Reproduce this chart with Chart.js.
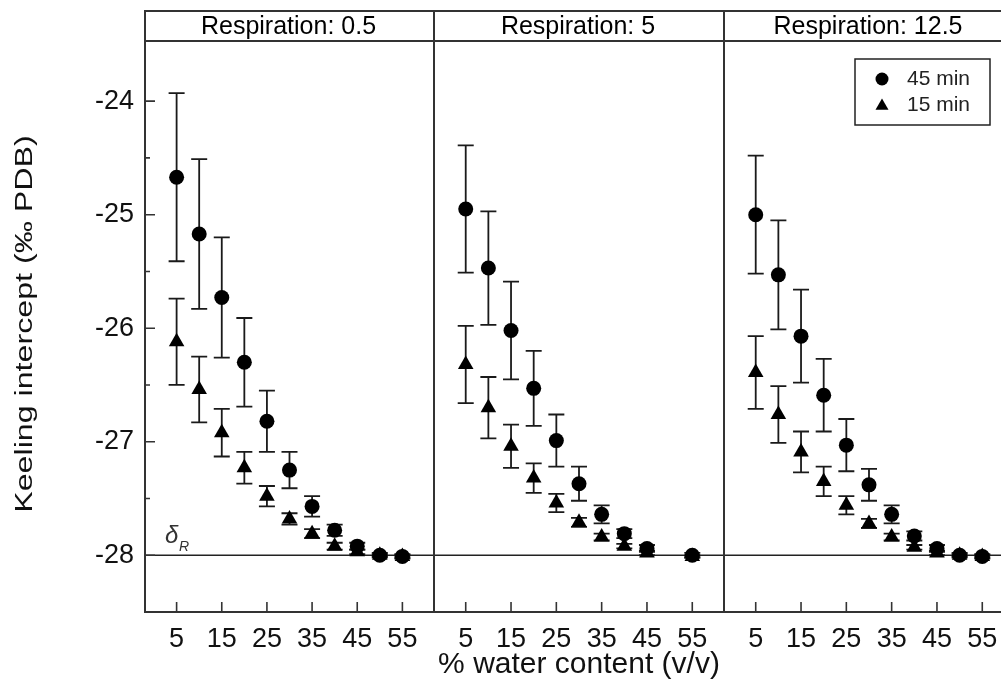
<!DOCTYPE html>
<html>
<head>
<meta charset="utf-8">
<script src="https://cdn.jsdelivr.net/npm/chart.js@4.4.0/dist/chart.umd.min.js"></script>
<style>
  html, body { margin: 0; padding: 0; background: #fff; overflow: hidden; }
  #wrap { position: relative; width: 1001px; height: 694px; overflow: hidden; }
  canvas { position: absolute; top: 0; }
</style>
</head>
<body>
<div id="wrap">
  <canvas id="p1" width="444" height="694" style="left:0px"></canvas>
  <canvas id="p2" width="310" height="694" style="left:424px"></canvas>
  <canvas id="p3" width="310" height="694" style="left:714px"></canvas>
</div>
<script>
// x values (% water content) and tick marks
var waterContent = [5, 10, 15, 20, 25, 30, 35, 40, 45, 50, 55];
var xTickValues = [5, 15, 25, 35, 45, 55];
var yTickValues = [-28, -27, -26, -25, -24];
var yMinorTicks = [-28.5, -27.5, -26.5, -25.5, -24.5];
var panelTitles = ['Respiration: 0.5', 'Respiration: 5', 'Respiration: 12.5'];
var seriesLabels = ['45 min', '15 min'];
var deltaR = -28;

// Respiration 0.5
var resp05min45 = [-24.67, -25.17, -25.73, -26.30, -26.82, -27.25, -27.57, -27.78, -27.92, -28.00, -28.01];
var resp05min45Err = [0.74, 0.66, 0.53, 0.39, 0.27, 0.16, 0.09, 0.05, 0.03, 0.02, 0.02];
var resp05min15 = [-26.12, -26.54, -26.92, -27.23, -27.48, -27.68, -27.81, -27.92, -27.97, -28.00, -28.01];
var resp05min15Err = [0.38, 0.29, 0.21, 0.14, 0.09, 0.05, 0.04, 0.03, 0.02, 0.01, 0.01];

// Respiration 5 (no point at 50 %)
var resp5min45 = [-24.95, -25.47, -26.02, -26.53, -26.99, -27.37, -27.64, -27.81, -27.94, null, -28.00];
var resp5min45Err = [0.56, 0.50, 0.43, 0.33, 0.23, 0.15, 0.08, 0.04, 0.03, null, 0.02];
var resp5min15 = [-26.32, -26.70, -27.04, -27.32, -27.54, -27.71, -27.84, -27.92, -27.98, null, -28.01];
var resp5min15Err = [0.34, 0.27, 0.19, 0.13, 0.08, 0.04, 0.03, 0.02, 0.02, null, 0.01];

// Respiration 12.5
var resp125min45 = [-25.00, -25.53, -26.07, -26.59, -27.03, -27.38, -27.64, -27.83, -27.94, -28.00, -28.01];
var resp125min45Err = [0.52, 0.48, 0.41, 0.32, 0.23, 0.14, 0.08, 0.04, 0.03, 0.02, 0.02];
var resp125min15 = [-26.39, -26.76, -27.09, -27.35, -27.56, -27.72, -27.84, -27.93, -27.98, -28.00, -28.01];
var resp125min15Err = [0.32, 0.25, 0.18, 0.13, 0.08, 0.04, 0.03, 0.02, 0.02, 0.01, 0.01];

var FONT = '"Liberation Sans", Arial, sans-serif';
var INK = '#111';
var LINE = '#333';

function toPoints(values, errs) {
    var pts = [];
    for (var i = 0; i < waterContent.length; i++) {
        if (values[i] === null) continue;
        pts.push({ x: waterContent[i], y: values[i], e: errs[i] });
    }
    return pts;
}

// frame, header strip, inward ticks, error bars, delta line, legend
var panelDecor = {
    id: 'panelDecor',
    beforeDatasetsDraw: function (chart, args, o) {
        var ctx = chart.ctx, a = chart.chartArea;
        var xs = chart.scales.x, ys = chart.scales.y;
        ctx.save();
        var yd = ys.getPixelForValue(deltaR);
        ctx.strokeStyle = '#222';
        ctx.lineWidth = 1.5;
        ctx.beginPath();
        ctx.moveTo(a.left, yd);
        ctx.lineTo(a.right, yd);
        ctx.stroke();

        // error bars
        ctx.strokeStyle = '#1a1a1a';
        ctx.lineWidth = 1.8;
        chart.data.datasets.forEach(function (ds) {
            ds.data.forEach(function (p) {
                if (!p.e) return;
                var px = xs.getPixelForValue(p.x);
                var top = ys.getPixelForValue(p.y + p.e);
                var bot = ys.getPixelForValue(p.y - p.e);
                ctx.beginPath();
                ctx.moveTo(px, top); ctx.lineTo(px, bot);
                ctx.moveTo(px - 8, top); ctx.lineTo(px + 8, top);
                ctx.moveTo(px - 8, bot); ctx.lineTo(px + 8, bot);
                ctx.stroke();
            });
        });

        if (o.delta) {
            ctx.fillStyle = '#333';
            ctx.textAlign = 'left';
            ctx.textBaseline = 'alphabetic';
            ctx.font = 'italic 24px ' + FONT;
            ctx.fillText('δ', a.left + 20, yd - 12);
            ctx.font = 'italic 14px ' + FONT;
            ctx.fillText('R', a.left + 34, yd - 4);
        }
        ctx.restore();
    },
    afterDraw: function (chart, args, o) {
        var ctx = chart.ctx, a = chart.chartArea;
        var xs = chart.scales.x, ys = chart.scales.y;
        ctx.save();
        ctx.strokeStyle = LINE;
        ctx.lineWidth = 2;
        // header strip
        ctx.strokeRect(a.left, 11, a.right - a.left, a.top - 11);
        ctx.fillStyle = '#000';
        ctx.font = '25px ' + FONT;
        ctx.textAlign = 'center';
        ctx.textBaseline = 'middle';
        ctx.fillText(o.title, (a.left + a.right) / 2 - 1, (11 + a.top) / 2 + 1);
        // plot frame
        ctx.strokeRect(a.left, a.top, a.right - a.left, a.bottom - a.top);

        // inward ticks
        ctx.lineWidth = 1.6;
        ctx.beginPath();
        xTickValues.forEach(function (v) {
            var px = xs.getPixelForValue(v);
            ctx.moveTo(px, a.bottom);
            ctx.lineTo(px, a.bottom - 10);
        });
        if (o.yTicks) {
            yTickValues.forEach(function (v) {
                var py = ys.getPixelForValue(v);
                ctx.moveTo(a.left, py);
                ctx.lineTo(a.left + 10, py);
            });
            yMinorTicks.forEach(function (v) {
                var py = ys.getPixelForValue(v);
                ctx.moveTo(a.left, py);
                ctx.lineTo(a.left + 5, py);
            });
        }
        ctx.stroke();

        if (o.yTitle) {
            ctx.save();
            ctx.translate(32, 324);
            ctx.rotate(-Math.PI / 2);
            ctx.scale(1.4, 1);
            ctx.fillStyle = INK;
            ctx.font = '23px ' + FONT;
            ctx.textAlign = 'center';
            ctx.textBaseline = 'alphabetic';
            ctx.fillText(o.yTitle, 0, 0);
            ctx.restore();
        }

        if (o.legend) {
            var lx = a.left + 131, ly = a.top + 18;
            ctx.strokeStyle = '#222';
            ctx.lineWidth = 1.5;
            ctx.strokeRect(lx, ly, 135, 66);
            ctx.fillStyle = '#000';
            Chart.helpers.drawPoint(ctx, { pointStyle: 'circle', radius: 6.5, rotation: 0, borderWidth: 0 }, lx + 27, ly + 20);
            Chart.helpers.drawPoint(ctx, { pointStyle: 'triangle', radius: 7.5, rotation: 0, borderWidth: 0 }, lx + 27, ly + 47);
            ctx.fillStyle = '#222';
            ctx.font = '21px ' + FONT;
            ctx.textAlign = 'left';
            ctx.textBaseline = 'middle';
            ctx.fillText(seriesLabels[0], lx + 52, ly + 20);
            ctx.fillText(seriesLabels[1], lx + 52, ly + 46);
        }
        ctx.restore();
    }
};

function makePanel(id, idx, m45, e45, m15, e15) {
    var first = idx === 0;
    var middle = idx === 1;
    var ctx = document.getElementById(id).getContext('2d');
    return new Chart(ctx, {
        type: 'scatter',
        data: {
            datasets: [
                {
                    label: seriesLabels[0],
                    data: toPoints(m45, e45),
                    pointStyle: 'circle',
                    pointRadius: 7.5,
                    backgroundColor: '#000',
                    borderColor: '#000',
                    borderWidth: 0
                },
                {
                    label: seriesLabels[1],
                    data: toPoints(m15, e15),
                    pointStyle: 'triangle',
                    pointRadius: 9,
                    backgroundColor: '#000',
                    borderColor: '#000',
                    borderWidth: 0
                }
            ]
        },
        options: {
            responsive: false,
            animation: false,
            layout: { padding: { top: 41, left: first ? 0 : 10, right: 10, bottom: 0 } },
            plugins: {
                legend: { display: false },
                tooltip: { enabled: false },
                panelDecor: {
                    title: panelTitles[idx],
                    yTicks: first,
                    delta: first,
                    yTitle: first ? 'Keeling intercept (‰ PDB)' : null,
                    legend: idx === 2
                }
            },
            scales: {
                x: {
                    type: 'linear',
                    min: -2,
                    max: 62,
                    grid: { display: false, drawTicks: false },
                    border: { display: false },
                    ticks: { color: INK, font: { family: FONT, size: 27 }, padding: 11, maxRotation: 0, autoSkip: false },
                    title: {
                        display: middle,
                        text: '% water content (v/v)',
                        color: INK,
                        font: { family: FONT, size: 30 },
                        padding: { top: 0, bottom: 11 }
                    },
                    afterBuildTicks: function (s) {
                        s.ticks = xTickValues.map(function (v) { return { value: v }; });
                    },
                    afterFit: function (s) { s.height = 82; }
                },
                y: {
                    display: first,
                    min: -28.5,
                    max: -23.47,
                    grid: { display: false, drawTicks: false },
                    border: { display: false },
                    ticks: { color: INK, font: { family: FONT, size: 27 }, padding: 11 },
                    afterBuildTicks: function (s) {
                        s.ticks = yTickValues.map(function (v) { return { value: v }; });
                    },
                    afterFit: function (s) { s.width = first ? 145 : 0; }
                }
            }
        },
        plugins: [panelDecor]
    });
}

makePanel('p1', 0, resp05min45, resp05min45Err, resp05min15, resp05min15Err);
makePanel('p2', 1, resp5min45, resp5min45Err, resp5min15, resp5min15Err);
makePanel('p3', 2, resp125min45, resp125min45Err, resp125min15, resp125min15Err);
</script>
</body>
</html>
